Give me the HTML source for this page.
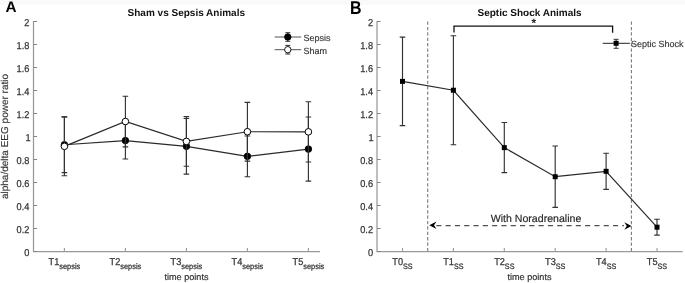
<!DOCTYPE html>
<html><head><meta charset="utf-8"><style>
html,body{margin:0;padding:0;background:#fff;}
body{width:685px;height:283px;overflow:hidden;}
svg{display:block;filter:grayscale(1);}
text{font-family:"Liberation Sans", sans-serif;text-rendering:geometricPrecision;}
</style></head><body>
<svg width="685" height="283" viewBox="0 0 685 283" font-family="Liberation Sans, sans-serif">
<rect x="0" y="0" width="685" height="283" fill="#ffffff"/>
<rect x="0" y="0" width="685" height="4.6" fill="#f9f9f9"/>
<path d="M33.5 21V251.5H320" fill="none" stroke="#999999" stroke-width="1.25"/>
<line x1="33.5" y1="251.5" x2="37.1" y2="251.5" stroke="#858585" stroke-width="1"/>
<text transform="translate(29.40 255.70) scale(0.92 1)" font-size="10" fill="#333333" stroke="#333333" stroke-width="0.25" text-anchor="end">0</text>
<line x1="33.5" y1="228.5" x2="37.1" y2="228.5" stroke="#858585" stroke-width="1"/>
<text transform="translate(29.40 232.70) scale(0.92 1)" font-size="10" fill="#333333" stroke="#333333" stroke-width="0.25" text-anchor="end">0.2</text>
<line x1="33.5" y1="205.5" x2="37.1" y2="205.5" stroke="#858585" stroke-width="1"/>
<text transform="translate(29.40 209.70) scale(0.92 1)" font-size="10" fill="#333333" stroke="#333333" stroke-width="0.25" text-anchor="end">0.4</text>
<line x1="33.5" y1="182.5" x2="37.1" y2="182.5" stroke="#858585" stroke-width="1"/>
<text transform="translate(29.40 186.70) scale(0.92 1)" font-size="10" fill="#333333" stroke="#333333" stroke-width="0.25" text-anchor="end">0.6</text>
<line x1="33.5" y1="159.5" x2="37.1" y2="159.5" stroke="#858585" stroke-width="1"/>
<text transform="translate(29.40 163.70) scale(0.92 1)" font-size="10" fill="#333333" stroke="#333333" stroke-width="0.25" text-anchor="end">0.8</text>
<line x1="33.5" y1="136.5" x2="37.1" y2="136.5" stroke="#858585" stroke-width="1"/>
<text transform="translate(30.60 140.70) scale(0.92 1)" font-size="10" fill="#333333" stroke="#333333" stroke-width="0.25" text-anchor="end">1</text>
<line x1="33.5" y1="113.49999999999997" x2="37.1" y2="113.49999999999997" stroke="#858585" stroke-width="1"/>
<text transform="translate(29.40 117.70) scale(0.92 1)" font-size="10" fill="#333333" stroke="#333333" stroke-width="0.25" text-anchor="end">1.2</text>
<line x1="33.5" y1="90.49999999999997" x2="37.1" y2="90.49999999999997" stroke="#858585" stroke-width="1"/>
<text transform="translate(29.40 94.70) scale(0.92 1)" font-size="10" fill="#333333" stroke="#333333" stroke-width="0.25" text-anchor="end">1.4</text>
<line x1="33.5" y1="67.5" x2="37.1" y2="67.5" stroke="#858585" stroke-width="1"/>
<text transform="translate(29.40 71.70) scale(0.92 1)" font-size="10" fill="#333333" stroke="#333333" stroke-width="0.25" text-anchor="end">1.6</text>
<line x1="33.5" y1="44.5" x2="37.1" y2="44.5" stroke="#858585" stroke-width="1"/>
<text transform="translate(29.40 48.70) scale(0.92 1)" font-size="10" fill="#333333" stroke="#333333" stroke-width="0.25" text-anchor="end">1.8</text>
<line x1="33.5" y1="21.5" x2="37.1" y2="21.5" stroke="#858585" stroke-width="1"/>
<text transform="translate(29.40 25.70) scale(0.92 1)" font-size="10" fill="#333333" stroke="#333333" stroke-width="0.25" text-anchor="end">2</text>
<line x1="64.4" y1="251" x2="64.4" y2="248.1" stroke="#999" stroke-width="1.1"/>
<text transform="translate(64.40 265.0) scale(0.92 1)" font-size="10" fill="#333333" stroke="#333333" stroke-width="0.25" text-anchor="middle">T1<tspan font-size="8" dy="3.6">sepsis</tspan></text>
<line x1="125.4" y1="251" x2="125.4" y2="248.1" stroke="#999" stroke-width="1.1"/>
<text transform="translate(125.40 265.0) scale(0.92 1)" font-size="10" fill="#333333" stroke="#333333" stroke-width="0.25" text-anchor="middle">T2<tspan font-size="8" dy="3.6">sepsis</tspan></text>
<line x1="186.4" y1="251" x2="186.4" y2="248.1" stroke="#999" stroke-width="1.1"/>
<text transform="translate(186.40 265.0) scale(0.92 1)" font-size="10" fill="#333333" stroke="#333333" stroke-width="0.25" text-anchor="middle">T3<tspan font-size="8" dy="3.6">sepsis</tspan></text>
<line x1="247.4" y1="251" x2="247.4" y2="248.1" stroke="#999" stroke-width="1.1"/>
<text transform="translate(247.40 265.0) scale(0.92 1)" font-size="10" fill="#333333" stroke="#333333" stroke-width="0.25" text-anchor="middle">T4<tspan font-size="8" dy="3.6">sepsis</tspan></text>
<line x1="308.4" y1="251" x2="308.4" y2="248.1" stroke="#999" stroke-width="1.1"/>
<text transform="translate(308.40 265.0) scale(0.92 1)" font-size="10" fill="#333333" stroke="#333333" stroke-width="0.25" text-anchor="middle">T5<tspan font-size="8" dy="3.6">sepsis</tspan></text>
<text x="186.5" y="279.9" font-size="9.1" fill="#333333" stroke="#333333" stroke-width="0.2" text-anchor="middle">time points</text>
<text transform="translate(7.9 136.5) rotate(-90)" font-size="10" fill="#333333" stroke="#333333" stroke-width="0.15" text-anchor="middle">alpha/delta EEG power ratio</text>
<text x="186.3" y="16.4" font-size="10" font-weight="bold" fill="#111" text-anchor="middle">Sham vs Sepsis Animals</text>
<text x="5.4" y="11.6" font-size="15.3" font-weight="bold" fill="#000">A</text>
<path d="M64.4 116.91V172.57M61.60000000000001 116.91H67.2M61.60000000000001 172.57H67.2" fill="none" stroke="#333333" stroke-width="1.15"/>
<path d="M125.4 122.20V159.00M122.60000000000001 122.20H128.20000000000002M122.60000000000001 159.00H128.20000000000002" fill="none" stroke="#333333" stroke-width="1.15"/>
<path d="M186.4 118.52V174.18M183.6 118.52H189.20000000000002M183.6 174.18H189.20000000000002" fill="none" stroke="#333333" stroke-width="1.15"/>
<path d="M247.4 136.00V176.71M244.6 136.00H250.20000000000002M244.6 176.71H250.20000000000002" fill="none" stroke="#333333" stroke-width="1.15"/>
<path d="M308.4 117.03V181.19M305.59999999999997 117.03H311.2M305.59999999999997 181.19H311.2" fill="none" stroke="#333333" stroke-width="1.15"/>
<polyline points="64.4,144.74 125.4,140.60 186.4,146.35 247.4,156.36 308.4,149.11" fill="none" stroke="#2a2a2a" stroke-width="1.2"/>
<circle cx="64.4" cy="144.74" r="3.3" fill="#000" stroke="#000" stroke-width="0.8"/>
<circle cx="125.4" cy="140.60" r="3.3" fill="#000" stroke="#000" stroke-width="0.8"/>
<circle cx="186.4" cy="146.35" r="3.3" fill="#000" stroke="#000" stroke-width="0.8"/>
<circle cx="247.4" cy="156.36" r="3.3" fill="#000" stroke="#000" stroke-width="0.8"/>
<circle cx="308.4" cy="149.11" r="3.3" fill="#000" stroke="#000" stroke-width="0.8"/>
<path d="M64.4 116.91V175.79M61.60000000000001 116.91H67.2M61.60000000000001 175.79H67.2" fill="none" stroke="#333333" stroke-width="1.15"/>
<path d="M125.4 96.21V146.81M122.60000000000001 96.21H128.20000000000002M122.60000000000001 146.81H128.20000000000002" fill="none" stroke="#333333" stroke-width="1.15"/>
<path d="M186.4 116.56V166.25M183.6 116.56H189.20000000000002M183.6 166.25H189.20000000000002" fill="none" stroke="#333333" stroke-width="1.15"/>
<path d="M247.4 102.42V161.07M244.6 102.42H250.20000000000002M244.6 161.07H250.20000000000002" fill="none" stroke="#333333" stroke-width="1.15"/>
<path d="M308.4 101.73V161.99M305.59999999999997 101.73H311.2M305.59999999999997 161.99H311.2" fill="none" stroke="#333333" stroke-width="1.15"/>
<polyline points="64.4,146.35 125.4,121.51 186.4,141.41 247.4,131.75 308.4,131.86" fill="none" stroke="#2a2a2a" stroke-width="1.2"/>
<circle cx="64.4" cy="146.35" r="3.3" fill="#fff" stroke="#000" stroke-width="1"/>
<circle cx="125.4" cy="121.51" r="3.3" fill="#fff" stroke="#000" stroke-width="1"/>
<circle cx="186.4" cy="141.41" r="3.3" fill="#fff" stroke="#000" stroke-width="1"/>
<circle cx="247.4" cy="131.75" r="3.3" fill="#fff" stroke="#000" stroke-width="1"/>
<circle cx="308.4" cy="131.86" r="3.3" fill="#fff" stroke="#000" stroke-width="1"/>
<line x1="274.6" y1="37" x2="301.2" y2="37" stroke="#555" stroke-width="1"/>
<path d="M287.8 32.7V41.3M285.3 32.7H290.3M285.3 41.3H290.3" stroke="#333" stroke-width="1" fill="none"/>
<circle cx="287.8" cy="37" r="3.2" fill="#000" stroke="#000" stroke-width="0.9"/>
<text x="303.6" y="40.9" font-size="9" fill="#333333" stroke="#333333" stroke-width="0.15">Sepsis</text>
<line x1="274.6" y1="49.7" x2="301.2" y2="49.7" stroke="#555" stroke-width="1"/>
<path d="M287.8 45.400000000000006V54.0M285.3 45.400000000000006H290.3M285.3 54.0H290.3" stroke="#333" stroke-width="1" fill="none"/>
<circle cx="287.8" cy="49.7" r="3.2" fill="#fff" stroke="#000" stroke-width="0.9"/>
<text x="303.6" y="53.6" font-size="9" fill="#333333" stroke="#333333" stroke-width="0.15">Sham</text>
<path d="M377 21V251.5H682.6" fill="none" stroke="#999999" stroke-width="1.25"/>
<line x1="377" y1="251.5" x2="380.6" y2="251.5" stroke="#858585" stroke-width="1"/>
<text transform="translate(373.00 255.70) scale(0.92 1)" font-size="10" fill="#333333" stroke="#333333" stroke-width="0.25" text-anchor="end">0</text>
<line x1="377" y1="228.5" x2="380.6" y2="228.5" stroke="#858585" stroke-width="1"/>
<text transform="translate(373.00 232.70) scale(0.92 1)" font-size="10" fill="#333333" stroke="#333333" stroke-width="0.25" text-anchor="end">0.2</text>
<line x1="377" y1="205.5" x2="380.6" y2="205.5" stroke="#858585" stroke-width="1"/>
<text transform="translate(373.00 209.70) scale(0.92 1)" font-size="10" fill="#333333" stroke="#333333" stroke-width="0.25" text-anchor="end">0.4</text>
<line x1="377" y1="182.5" x2="380.6" y2="182.5" stroke="#858585" stroke-width="1"/>
<text transform="translate(373.00 186.70) scale(0.92 1)" font-size="10" fill="#333333" stroke="#333333" stroke-width="0.25" text-anchor="end">0.6</text>
<line x1="377" y1="159.5" x2="380.6" y2="159.5" stroke="#858585" stroke-width="1"/>
<text transform="translate(373.00 163.70) scale(0.92 1)" font-size="10" fill="#333333" stroke="#333333" stroke-width="0.25" text-anchor="end">0.8</text>
<line x1="377" y1="136.5" x2="380.6" y2="136.5" stroke="#858585" stroke-width="1"/>
<text transform="translate(373.60 140.70) scale(0.92 1)" font-size="10" fill="#333333" stroke="#333333" stroke-width="0.25" text-anchor="end">1</text>
<line x1="377" y1="113.49999999999997" x2="380.6" y2="113.49999999999997" stroke="#858585" stroke-width="1"/>
<text transform="translate(373.00 117.70) scale(0.92 1)" font-size="10" fill="#333333" stroke="#333333" stroke-width="0.25" text-anchor="end">1.2</text>
<line x1="377" y1="90.49999999999997" x2="380.6" y2="90.49999999999997" stroke="#858585" stroke-width="1"/>
<text transform="translate(373.00 94.70) scale(0.92 1)" font-size="10" fill="#333333" stroke="#333333" stroke-width="0.25" text-anchor="end">1.4</text>
<line x1="377" y1="67.5" x2="380.6" y2="67.5" stroke="#858585" stroke-width="1"/>
<text transform="translate(373.00 71.70) scale(0.92 1)" font-size="10" fill="#333333" stroke="#333333" stroke-width="0.25" text-anchor="end">1.6</text>
<line x1="377" y1="44.5" x2="380.6" y2="44.5" stroke="#858585" stroke-width="1"/>
<text transform="translate(373.00 48.70) scale(0.92 1)" font-size="10" fill="#333333" stroke="#333333" stroke-width="0.25" text-anchor="end">1.8</text>
<line x1="377" y1="21.5" x2="380.6" y2="21.5" stroke="#858585" stroke-width="1"/>
<text transform="translate(373.00 25.70) scale(0.92 1)" font-size="10" fill="#333333" stroke="#333333" stroke-width="0.25" text-anchor="end">2</text>
<line x1="402.50" y1="251" x2="402.50" y2="248.1" stroke="#999" stroke-width="1.1"/>
<text transform="translate(402.50 265.0) scale(0.92 1)" font-size="10" fill="#333333" stroke="#333333" stroke-width="0.25" text-anchor="middle">T0<tspan font-size="7.8" dy="3.5">SS</tspan></text>
<line x1="453.40" y1="251" x2="453.40" y2="248.1" stroke="#999" stroke-width="1.1"/>
<text transform="translate(453.40 265.0) scale(0.92 1)" font-size="10" fill="#333333" stroke="#333333" stroke-width="0.25" text-anchor="middle">T1<tspan font-size="7.8" dy="3.5">SS</tspan></text>
<line x1="504.30" y1="251" x2="504.30" y2="248.1" stroke="#999" stroke-width="1.1"/>
<text transform="translate(504.30 265.0) scale(0.92 1)" font-size="10" fill="#333333" stroke="#333333" stroke-width="0.25" text-anchor="middle">T2<tspan font-size="7.8" dy="3.5">SS</tspan></text>
<line x1="555.20" y1="251" x2="555.20" y2="248.1" stroke="#999" stroke-width="1.1"/>
<text transform="translate(555.20 265.0) scale(0.92 1)" font-size="10" fill="#333333" stroke="#333333" stroke-width="0.25" text-anchor="middle">T3<tspan font-size="7.8" dy="3.5">SS</tspan></text>
<line x1="606.10" y1="251" x2="606.10" y2="248.1" stroke="#999" stroke-width="1.1"/>
<text transform="translate(606.10 265.0) scale(0.92 1)" font-size="10" fill="#333333" stroke="#333333" stroke-width="0.25" text-anchor="middle">T4<tspan font-size="7.8" dy="3.5">SS</tspan></text>
<line x1="657.00" y1="251" x2="657.00" y2="248.1" stroke="#999" stroke-width="1.1"/>
<text transform="translate(657.00 265.0) scale(0.92 1)" font-size="10" fill="#333333" stroke="#333333" stroke-width="0.25" text-anchor="middle">T5<tspan font-size="7.8" dy="3.5">SS</tspan></text>
<text x="529.5" y="279.9" font-size="9.1" fill="#333333" stroke="#333333" stroke-width="0.2" text-anchor="middle">time points</text>
<text x="529.6" y="16.2" font-size="10" font-weight="bold" fill="#111" text-anchor="middle">Septic Shock Animals</text>
<text transform="translate(350.0 14) scale(0.86 1)" font-size="18.5" font-weight="bold" fill="#000">B</text>
<line x1="427.7" y1="21.5" x2="427.7" y2="251" stroke="#7a7a7a" stroke-width="1.1" stroke-dasharray="3.3 2.09"/>
<line x1="631.4" y1="21.5" x2="631.4" y2="251" stroke="#7a7a7a" stroke-width="1.1" stroke-dasharray="3.3 2.09"/>
<path d="M402.5 37.10V125.65M399.7 37.10H405.3M399.7 125.65H405.3" fill="none" stroke="#333333" stroke-width="1.15"/>
<path d="M453.4 35.72V144.74M450.59999999999997 35.72H456.2M450.59999999999997 144.74H456.2" fill="none" stroke="#333333" stroke-width="1.15"/>
<path d="M504.3 122.54V172.69M501.5 122.54H507.1M501.5 172.69H507.1" fill="none" stroke="#333333" stroke-width="1.15"/>
<path d="M555.2 146.00V207.41M552.4000000000001 146.00H558.0M552.4000000000001 207.41H558.0" fill="none" stroke="#333333" stroke-width="1.15"/>
<path d="M606.1 153.25V189.36M603.3000000000001 153.25H608.9M603.3000000000001 189.36H608.9" fill="none" stroke="#333333" stroke-width="1.15"/>
<path d="M657.0 219.26V235.13M654.2 219.26H659.8M654.2 235.13H659.8" fill="none" stroke="#333333" stroke-width="1.15"/>
<polyline points="402.50,81.38 453.40,90.23 504.30,147.62 555.20,176.71 606.10,171.31 657.00,227.19" fill="none" stroke="#2a2a2a" stroke-width="1.2"/>
<rect x="400.00" y="78.88" width="5" height="5" fill="#000"/>
<rect x="450.90" y="87.73" width="5" height="5" fill="#000"/>
<rect x="501.80" y="145.12" width="5" height="5" fill="#000"/>
<rect x="552.70" y="174.21" width="5" height="5" fill="#000"/>
<rect x="603.60" y="168.81" width="5" height="5" fill="#000"/>
<rect x="654.50" y="224.69" width="5" height="5" fill="#000"/>
<path d="M454 32.6V26.2H612.6V32.7" fill="none" stroke="#111" stroke-width="1.3"/>
<text x="533.9" y="27.4" font-size="12" fill="#000" stroke="#000" stroke-width="0.2" text-anchor="middle">*</text>
<line x1="602.7" y1="43.3" x2="629.8" y2="43.3" stroke="#222" stroke-width="1"/>
<path d="M616.1 39.3V48.3M613.6 39.3H618.6M613.6 48.3H618.6" stroke="#333" stroke-width="1" fill="none"/>
<rect x="613.6" y="40.8" width="5" height="5" fill="#000"/>
<text x="631.0" y="47.3" font-size="9" fill="#333333" stroke="#333333" stroke-width="0.15">Septic Shock</text>
<line x1="436.3" y1="225.6" x2="624" y2="225.6" stroke="#505050" stroke-width="1.3" stroke-dasharray="5.1 4.2"/>
<path d="M429.3 225.3L436.5 221.4L434 225.3L436.5 229.1Z" fill="#000"/>
<path d="M631.5 226.0L624.3 222.2L626.8 226.0L624.3 229.8Z" fill="#000"/>
<text x="536" y="221.9" font-size="10.6" fill="#262626" stroke="#262626" stroke-width="0.15" text-anchor="middle">With Noradrenaline</text>
</svg>
</body></html>
